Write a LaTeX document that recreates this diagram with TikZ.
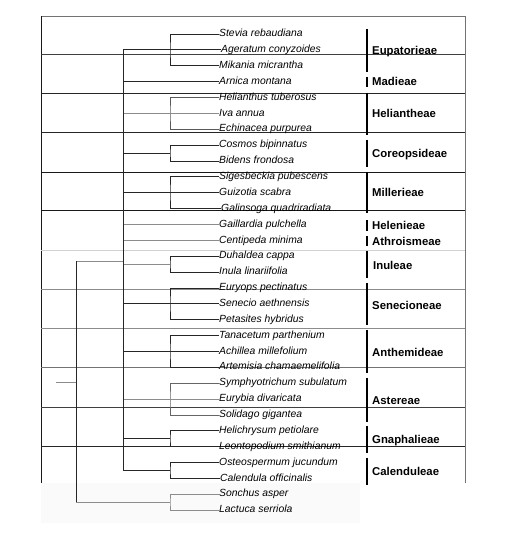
\documentclass[tikz,border=0pt]{standalone}
\usepackage{fontspec}
\setmainfont{Liberation Sans}
\usetikzlibrary{calc}
\begin{document}
\begin{tikzpicture}[x=1bp,y=-1bp,
  leaf/.style={anchor=west,inner sep=0pt,text height=7.6bp,text depth=2.2bp,font=\fontsize{10.4}{12}\selectfont\itshape},
  tribe/.style={anchor=west,inner sep=0pt,text height=8.4bp,text depth=2.4bp,font=\fontsize{11.4}{13}\selectfont\bfseries},
  tree/.style={draw=black!85,line width=0.75bp},
  ltree/.style={draw=black!45,line width=0.9bp},
  tribebar/.style={draw=black,line width=1.3bp},
  gridline/.style={line width=0.7bp}]
\useasboundingbox (0,0) rectangle (523,537);
% faint background below the frame
\fill[black!2] (41,483) rectangle (360,523);
% frame
\draw[gridline,black!55] (41,16) -- (465,16);
\draw[gridline,black!90] (41,16) -- (41,483);
\draw[gridline,black!55] (465,16) -- (465,483);
% horizontal grid lines
\foreach \yy/\cc in {54/black!75,93/black!85,132/black!85,172/black!90,210/black!90,250/black!18,289/black!45,328/black!45,367/black!55,407/black!75,446/black!85}
  \draw[gridline,\cc] (41,\yy) -- (465,\yy);
% leaves
\foreach \n/\t/\dx [count=\i from 0] in {
  stevia/Stevia rebaudiana/0, ageratum/Ageratum conyzoides/2, mikania/Mikania micrantha/0,
  arnica/Arnica montana/0, helianthus/Helianthus tuberosus/0, iva/Iva annua/0,
  echinacea/Echinacea purpurea/0, cosmos/Cosmos bipinnatus/0, bidens/Bidens frondosa/0,
  sigesbeckia/Sigesbeckia pubescens/0, guizotia/Guizotia scabra/0, galinsoga/Galinsoga quadriradiata/2,
  gaillardia/Gaillardia pulchella/0, centipeda/Centipeda minima/0, duhaldea/Duhaldea cappa/0,
  inula/Inula linariifolia/0, euryops/Euryops pectinatus/0, senecio/Senecio aethnensis/0,
  petasites/Petasites hybridus/0, tanacetum/Tanacetum parthenium/0, achillea/Achillea millefolium/0,
  artemisia/Artemisia chamaemelifolia/0, symphyotrichum/Symphyotrichum subulatum/0, eurybia/Eurybia divaricata/0,
  solidago/Solidago gigantea/0, helichrysum/Helichrysum petiolare/0, leontopodium/Leontopodium smithianum/0,
  osteospermum/Osteospermum jucundum/0, calendula/Calendula officinalis/1, sonchus/Sonchus asper/0,
  lactuca/Lactuca serriola/0}
  \node[leaf] (\n) at ({219+\dx},{34+15.87*\i}) {\t};
% reference columns
\coordinate (cx) at (170,0);
\coordinate (bx) at (123,0);
\coordinate (ox) at (76,0);
% Eupatorieae
\coordinate (eup) at (ageratum.west -| cx);
\draw[tree] (stevia.west) -| (eup) |- (mikania.west);
\draw[tree] (eup -| bx) -- (ageratum.west);
% Arnica
\draw[tree] (arnica.west -| bx) -- (arnica.west);
% Heliantheae
\coordinate (hel) at (iva.west -| cx);
\draw[tree,draw=black!65] (helianthus.west) -| (hel) |- (echinacea.west);
\draw[ltree] (iva.west -| bx) -- (iva.west);
% Coreopsideae
\coordinate (cor) at ($(cosmos.west -| cx)!0.5!(bidens.west -| cx)$);
\draw[tree] (cosmos.west) -| (cor) |- (bidens.west);
\draw[tree] (cor -| bx) -- (cor);
% Millerieae
\coordinate (mil) at (guizotia.west -| cx);
\draw[tree] (sigesbeckia.west) -| (mil) |- (galinsoga.west);
\draw[tree] (guizotia.west -| bx) -- (guizotia.west);
% Helenieae, Athroismeae
\draw[ltree] (gaillardia.west -| bx) -- (gaillardia.west);
\draw[ltree] (centipeda.west -| bx) -- (centipeda.west);
% Inuleae
\coordinate (inu) at ($(duhaldea.west -| cx)!0.5!(inula.west -| cx)$);
\draw[tree] (duhaldea.west) -| (inu) |- (inula.west);
\draw[ltree] (inu -| bx) -- (inu);
% Senecioneae
\coordinate (sen) at (senecio.west -| cx);
\draw[tree] (euryops.west) -| (sen) |- (petasites.west);
\draw[tree] (senecio.west -| bx) -- (senecio.west);
% Anthemideae
\coordinate (ant) at (achillea.west -| cx);
\draw[tree] (tanacetum.west) -| (ant) |- (artemisia.west);
\draw[tree] (achillea.west -| bx) -- (achillea.west);
% Astereae
\coordinate (ast) at (eurybia.west -| cx);
\draw[tree,draw=black!60] (symphyotrichum.west) -| (ast) |- (solidago.west);
\draw[ltree] (eurybia.west -| bx) -- (eurybia.west);
% Gnaphalieae
\coordinate (gna) at ($(helichrysum.west -| cx)!0.5!(leontopodium.west -| cx)$);
\draw[tree] (helichrysum.west) -| (gna) |- (leontopodium.west);
\draw[tree] (gna -| bx) -- (gna);
% Calenduleae
\coordinate (cal) at ($(osteospermum.west -| cx)!0.5!(calendula.west -| cx)$);
\draw[tree] (osteospermum.west) -| (cal) |- (calendula.west);
\draw[tree] (cal -| bx) -- (cal);
% backbone
\draw[tree] (eup -| bx) -- (cal -| bx);
% outgroup
\coordinate (son) at ($(sonchus.west -| cx)!0.5!(lactuca.west -| cx)$);
\draw[ltree] (sonchus.west) -| (son) |- (lactuca.west);
\coordinate (bb) at (123,261);
\draw[ltree] (bb -| ox) -- (bb);
\draw[tree] (bb -| ox) -- (son -| ox);
\draw[ltree] (son -| ox) -- (son);
\coordinate (root) at (56,382);
\draw[ltree] (root) -- (root -| ox);
% tribes
\foreach \n/\t/\ya/\yb/\yl/\dx in {
  t1/Eupatorieae/29/72/52/0, t2/Madieae/77/87/83/0, t3/Heliantheae/93/135/115/0,
  t4/Coreopsideae/140/167/155/0, t5/Millerieae/172/213/194/0, t6/Helenieae/220/231/226/0,
  t7/Athroismeae/236/246/242/0, t8/Inuleae/251/278/266/1, t9/Senecioneae/283/325/306/0,
  t10/Anthemideae/330/373/353/0, t11/Astereae/378/422/401/0, t12/Gnaphalieae/426/453/440/0,
  t13/Calenduleae/458/485/472/0}
{
  \draw[tribebar] (367,\ya) -- (367,\yb);
  \node[tribe] (\n) at ({372+\dx},\yl) {\t};
}
\end{tikzpicture}
\end{document}
